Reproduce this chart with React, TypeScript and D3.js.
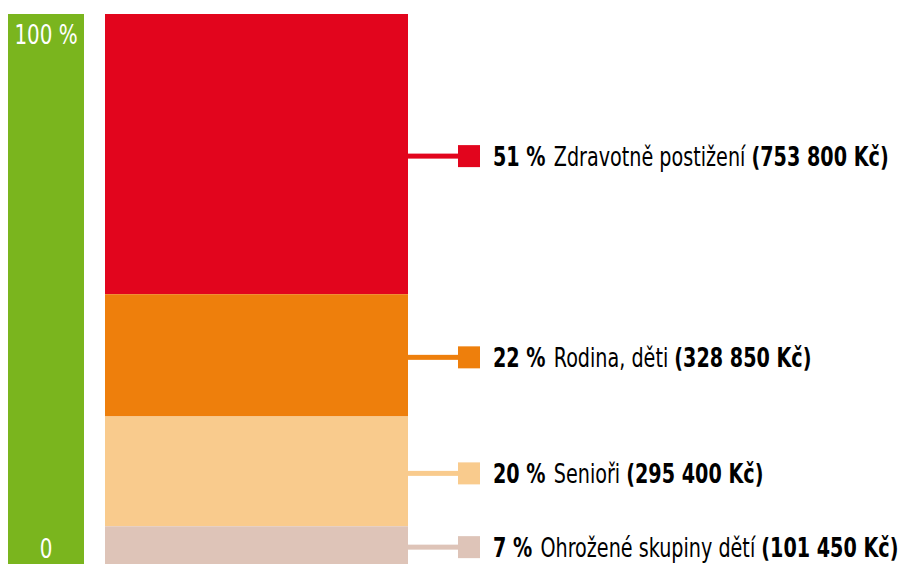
import React from 'react';
import * as d3 from 'd3';

// data
const categories = ['Zdravotně postižení', 'Rodina, děti', 'Senioři', 'Ohrožené skupiny dětí'];
const amounts = [753800, 328850, 295400, 101450];
const percentLabels = ['51 %', '22 %', '20 %', '7 %'];
const amountLabels = ['(753 800 Kč)', '(328 850 Kč)', '(295 400 Kč)', '(101 450 Kč)'];
const axisLabels = ['0', '100 %'];
const colors = ['#E2051D', '#EE7F0C', '#F9CB8D', '#DEC4B8'];

const width = 899;
const height = 564;
const FONT = '"DejaVu Sans Condensed", "DejaVu Sans", sans-serif';
// squeeze the glyphs a bit more to get close to the narrow original face
const SQUEEZE = 0.82;

const App: React.FC = () => {
  const total = d3.sum(amounts);
  const y = d3.scaleLinear().domain([0, total]).range([564, 14]);

  // cumulative stack from the top (first category on top)
  const segments = amounts.map((v, i) => {
    const above = d3.sum(amounts.slice(0, i));
    const top = total - above;
    const bottom = top - v;
    return { i, top: y(top), bottom: y(bottom) };
  });

  const barX = 105;
  const barW = 303;
  const axisX = 8;
  const axisW = 76;

  return (
    <svg
      width={width}
      height={height}
      style={{ position: 'absolute', left: 0, top: 0, display: 'block', background: '#fff' }}
    >
      {/* green scale bar */}
      <rect x={axisX} y={y(total)} width={axisW} height={y(0) - y(total)} fill="#7AB51E" />
      <text
        transform={`translate(${axisX + axisW / 2},${y(total) + 30}) scale(${SQUEEZE},1)`}
        textAnchor="middle"
        fill="#fff"
        style={{ fontFamily: FONT, fontSize: 27 }}
      >
        {axisLabels[1]}
      </text>
      <text
        transform={`translate(${axisX + axisW / 2},${y(0) - 6}) scale(${SQUEEZE},1)`}
        textAnchor="middle"
        fill="#fff"
        style={{ fontFamily: FONT, fontSize: 27 }}
      >
        {axisLabels[0]}
      </text>

      {/* stacked bar */}
      {segments.map(s => (
        <rect
          key={'seg' + s.i}
          x={barX}
          y={s.top}
          width={barW}
          height={s.bottom - s.top}
          fill={colors[s.i]}
        />
      ))}

      {/* leaders + labels */}
      {segments.map(s => {
        const cy = (s.top + s.bottom) / 2 + 2;
        return (
          <g key={'lab' + s.i}>
            <rect x={barX + barW} y={cy - 2.5} width={52} height={5} fill={colors[s.i]} />
            <rect x={458} y={cy - 11} width={22} height={22} fill={colors[s.i]} />
            <text
              transform={`translate(493,${cy + 10}) scale(${SQUEEZE},1)`}
              fill="#000"
              style={{ fontFamily: FONT, fontSize: 26 }}
            >
              <tspan fontWeight="bold">{percentLabels[s.i]}</tspan>
              <tspan dx={10}>{categories[s.i]} </tspan>
              <tspan fontWeight="bold">{amountLabels[s.i]}</tspan>
            </text>
          </g>
        );
      })}
    </svg>
  );
};

export default App;
